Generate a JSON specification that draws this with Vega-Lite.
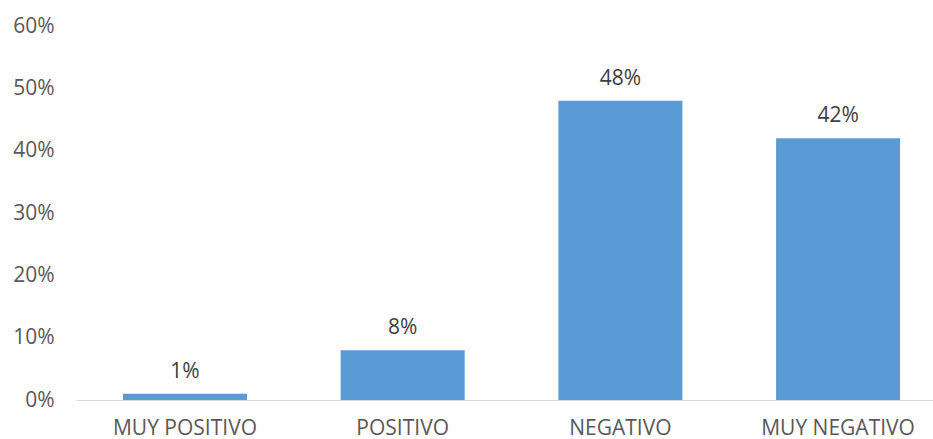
{
  "$schema": "https://vega.github.io/schema/vega-lite/v6.json",
  "width": 857,
  "height": 374,
  "autosize": {"type": "none"},
  "padding": {"left": 76, "top": 26, "right": 0, "bottom": 39},
  "background": "white",
  "config": {"view": {"stroke": null}, "font": "Open Sans"},
  "data": {"values": [
    {"cat": "MUY POSITIVO", "v": 0.01},
    {"cat": "POSITIVO", "v": 0.08},
    {"cat": "NEGATIVO", "v": 0.48},
    {"cat": "MUY NEGATIVO", "v": 0.42}
  ]},
  "encoding": {
    "x": {"field": "cat", "type": "nominal", "sort": null,
      "scale": {"paddingInner": 0.4304, "paddingOuter": 0.1835, "align": 0.588},
      "axis": {"title": null, "labelAngle": 0, "ticks": false, "domainColor": "#D9D9D9", "domainWidth": 1,
        "labelFontSize": 21, "labelColor": "#595959", "labelPadding": 17, "labelFont": "Open Sans", "labelOverlap": false}},
    "y": {"field": "v", "type": "quantitative",
      "scale": {"domain": [0, 0.6]},
      "axis": {"title": null, "format": ".0%", "values": [0, 0.1, 0.2, 0.3, 0.4, 0.5, 0.6],
        "grid": false, "domain": false, "ticks": false, "labelPadding": 22, "labelOverlap": false, "labelFlush": false,
        "labelFontSize": 21, "labelColor": "#595959", "labelFont": "Open Sans"}}
  },
  "layer": [
    {"mark": {"type": "bar", "color": "#5B9BD5"}},
    {"mark": {"type": "text", "baseline": "alphabetic", "dy": -16, "fontSize": 21, "color": "#404040", "font": "Open Sans"},
      "encoding": {"text": {"field": "v", "type": "quantitative", "format": ".0%"}}}
  ]
}
